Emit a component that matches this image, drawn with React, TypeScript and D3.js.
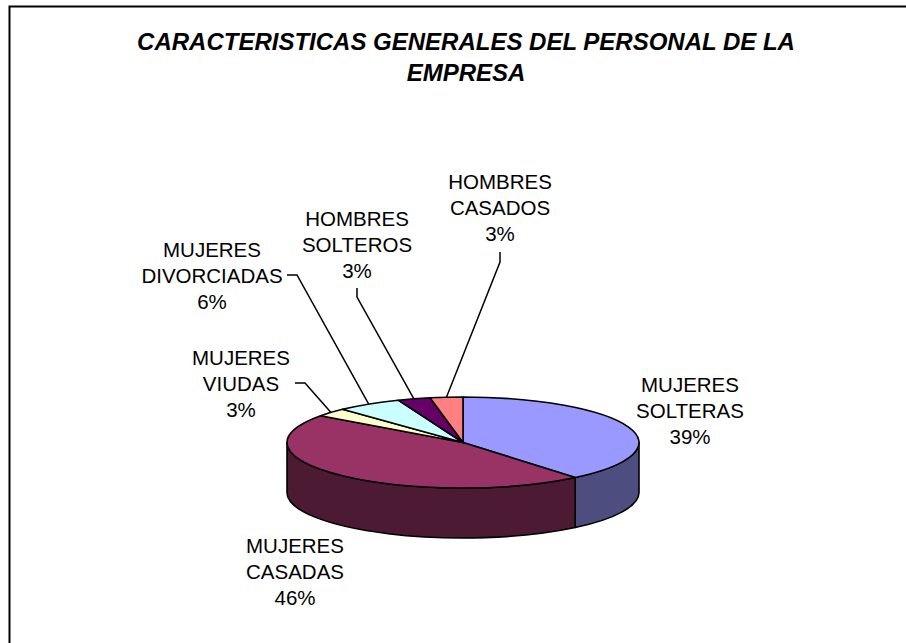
import React from "react";
import * as d3 from "d3";

const title = ["CARACTERISTICAS GENERALES DEL PERSONAL DE LA", "EMPRESA"];
const categories = [
  "MUJERES SOLTERAS",
  "MUJERES CASADAS",
  "MUJERES VIUDAS",
  "MUJERES DIVORCIADAS",
  "HOMBRES SOLTEROS",
  "HOMBRES CASADOS",
];
const values = [39, 46, 3, 6, 3, 3];
const colors = ["#9999FF", "#993366", "#FFFFCC", "#CCFFFF", "#660066", "#FF8080"];

// layout (label anchor: center x, first baseline) and leader stubs
const labelLayout = [
  { x: 690, y: 392, stub: null as null | number[][] },
  { x: 295, y: 553, stub: null as null | number[][] },
  { x: 241, y: 365, stub: [[295, 383], [305, 383]] },
  { x: 212, y: 257, stub: [[287, 275], [297, 275]] },
  { x: 357, y: 226, stub: [[357, 288], [357, 297]] },
  { x: 500, y: 189, stub: [[500, 252], [500, 262]] },
];

const W = 906;
const H = 643;
const cx = 463;
const cy = 442.5;
const rx = 176;
const ry = 45.5;
const depth = 50;
const FONT = "'Liberation Sans', Arial, Helvetica, sans-serif";
const LINE = 26;

function pt(a: number) {
  return { x: cx + rx * Math.sin(a), y: cy - ry * Math.cos(a) };
}

function shade(c: string) {
  const r = d3.rgb(c);
  return d3.rgb(r.r * 0.5, r.g * 0.5, r.b * 0.5).formatHex();
}

function topPath(a: number, b: number) {
  const p0 = pt(a);
  const p1 = pt(b);
  const large = b - a > Math.PI ? 1 : 0;
  return `M${cx},${cy}L${p0.x},${p0.y}A${rx},${ry} 0 ${large} 1 ${p1.x},${p1.y}Z`;
}

function sidePath(a: number, b: number) {
  const s = Math.max(a, Math.PI / 2);
  const e = Math.min(b, (3 * Math.PI) / 2);
  if (e <= s) return null;
  const p0 = pt(s);
  const p1 = pt(e);
  const large = e - s > Math.PI ? 1 : 0;
  return `M${p0.x},${p0.y}A${rx},${ry} 0 ${large} 1 ${p1.x},${p1.y}L${p1.x},${p1.y + depth}A${rx},${ry} 0 ${large} 0 ${p0.x},${p0.y + depth}Z`;
}

export default function App() {
  const arcs = d3.pie<number>().sort(null).value((d) => d)(values);
  const total = d3.sum(values);
  const fmt = d3.format(".0%");

  return (
    <div style={{ position: "absolute", left: 0, top: 0 }}>
      <svg width={W} height={H} style={{ display: "block", background: "#fff" }}>
        <rect x={0} y={0} width={W} height={H} fill="#fff" />
        <rect x={9.5} y={6.5} width={940} height={680} fill="none" stroke="#000" strokeWidth={2} />
        {title.map((t, i) => (
          <text
            key={i}
            x={466}
            y={50 + i * 31}
            textAnchor="middle"
            fontFamily={FONT}
            fontWeight="bold"
            fontStyle="italic"
            fontSize={24}
            fill="#000"
          >
            {t}
          </text>
        ))}
        <g>
          {arcs.map((d, i) => {
            const p = sidePath(d.startAngle, d.endAngle);
            return p ? (
              <path key={"s" + i} d={p} fill={shade(colors[i])} stroke="#000" strokeWidth={1.6} strokeLinejoin="round" />
            ) : null;
          })}
          {arcs.map((d, i) => (
            <path key={"t" + i} d={topPath(d.startAngle, d.endAngle)} fill={colors[i]} stroke="#000" strokeWidth={1.6} strokeLinejoin="round" />
          ))}
        </g>
        <g>
          {arcs.map((d, i) => {
            const L = labelLayout[i];
            if (!L.stub) return null;
            const end = pt((d.startAngle + d.endAngle) / 2);
            const pts = [...L.stub, [end.x, end.y]];
            return (
              <polyline
                key={"l" + i}
                points={pts.map((q) => q.join(",")).join(" ")}
                fill="none"
                stroke="#000"
                strokeWidth={1.5}
              />
            );
          })}
        </g>
        <g fontFamily={FONT} fontSize={20.5} fill="#000" textAnchor="middle">
          {arcs.map((d, i) => {
            const L = labelLayout[i];
            const words = categories[i].split(" ");
            const lines = [...words, fmt(values[i] / total)];
            return (
              <text key={"tx" + i}>
                {lines.map((ln, j) => (
                  <tspan key={j} x={L.x} y={L.y + j * LINE}>
                    {ln}
                  </tspan>
                ))}
              </text>
            );
          })}
        </g>
      </svg>
    </div>
  );
}
